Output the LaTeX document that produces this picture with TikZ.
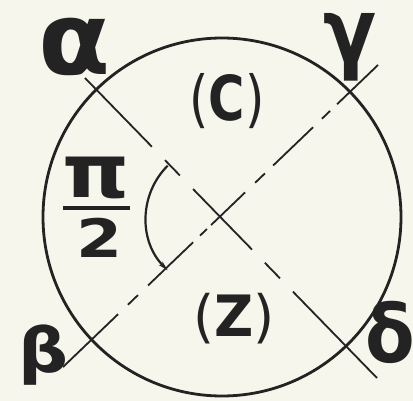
\documentclass[tikz,border=0pt]{standalone}
\usepackage{fontspec}
\setmainfont{DejaVu Sans}
\usetikzlibrary{arrows.meta,calc}
\definecolor{paper}{RGB}{246,246,236}
\definecolor{ink}{RGB}{35,35,35}
\begin{document}
\begin{tikzpicture}[x=1pt,y=-1pt,
  rim/.style={draw=ink,line width=2.8pt},
  axis/.style={draw=ink,line width=1.8pt},
  arcline/.style={draw=ink,line width=2.2pt},
  lab/.style={inner sep=0pt,text=ink}]
\fill[paper] (0,0) rectangle (413,401);
\useasboundingbox (0,0) rectangle (413,401);
\coordinate (O) at (220,218);
\coordinate (A) at (85,78);
\coordinate (D) at (377,378);
\coordinate (B) at (63,367);
\coordinate (G) at (378,65);
\draw[rim] (222,217) circle[radius=179];
\foreach \s/\e in {0/0.229,0.274/0.325,0.370/0.572,0.616/0.668,0.712/1}
  \draw[axis] ($(A)!\s!(D)$) -- ($(A)!\e!(D)$);
\foreach \s/\e in {0/0.175,0.206/0.238,0.270/0.413,0.435/0.457,0.470/0.578,0.610/0.641,0.667/0.794,0.822/0.848,0.870/1}
  \draw[axis] ($(B)!\s!(G)$) -- ($(B)!\e!(G)$);
\draw[arcline,-{Stealth[length=10pt,width=5pt]}] ($(O)+(225:74)$) arc[start angle=225,end angle=135,radius=74];
\node[lab,font={\fontsize{84}{84}\selectfont\bfseries}] (alpha) at (75,47) {\scalebox{1.25}[1.2]{α}};
\node[lab,font={\fontsize{78}{78}\selectfont\bfseries}] (gamma) at (350,47) {\scalebox{1.0}[1.15]{γ}};
\node[lab,font={\fontsize{56}{56}\selectfont\bfseries}] (beta) at (44,355) {\scalebox{1.25}[1.1]{β}};
\node[lab,font={\fontsize{76}{76}\selectfont\bfseries}] (delta) at (390,332) {\scalebox{0.95}[1.05]{δ}};
\node[lab,font={\fontsize{62}{62}\selectfont}] (C) at (227,101) {\scalebox{0.8}[1]{(\textbf{C})}};
\node[lab,font={\fontsize{57}{57}\selectfont}] (Z) at (234,319) {\scalebox{0.95}[1]{(\textbf{Z})}};
\node[lab,font={\fontsize{74}{74}\selectfont\bfseries}] (pi) at (96,178) {\scalebox{1.15}[1]{π}};
\node[lab,font={\fontsize{53}{53}\selectfont\bfseries}] (two) at (100,238) {\scalebox{1.25}[1]{2}};
\coordinate (barL) at (63,208);
\coordinate (barR) at (130,208);
\draw[draw=ink,line width=4pt] (barL) -- (barR);
\end{tikzpicture}
\end{document}
